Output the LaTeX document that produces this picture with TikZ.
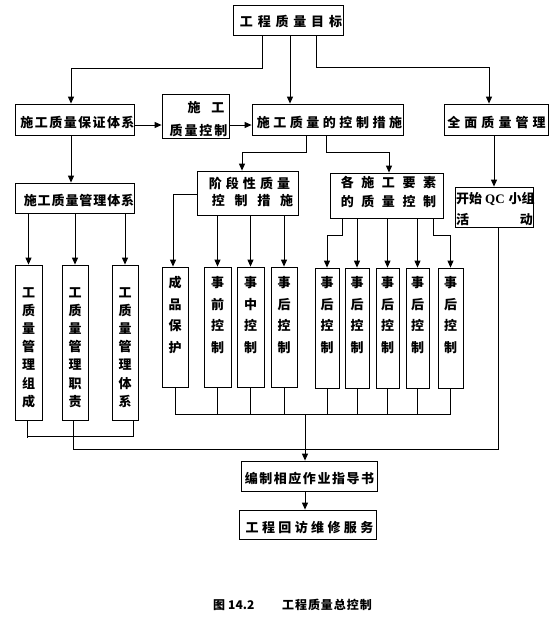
\documentclass[tikz,border=0pt]{standalone}
\usepackage{fontspec}
\setmainfont{Noto Sans CJK SC}
\newfontfamily\latinfont{Liberation Serif}
\usetikzlibrary{arrows.meta}
\newcommand\lsp[2]{{\addfontfeatures{LetterSpace=#1}#2}}
\begin{document}
\begin{tikzpicture}[x=1pt,y=-1pt,
  box/.style={draw, line width=0.8pt, inner sep=0pt},
  ln/.style={line width=0.7pt},
  arr/.style={line width=1pt, -{Triangle[length=7pt,width=6pt]}},
  txt/.style={inner sep=0pt, font=\fontsize{13}{15}\selectfont\bfseries},
  captxt/.style={inner sep=0pt, font=\fontsize{12}{14}\selectfont\bfseries},
  vtxt/.style={inner sep=0pt, align=center, font=\fontsize{13}{18.2}\selectfont\bfseries},
  vtxtb/.style={inner sep=0pt, align=center, font=\fontsize{13}{21.7}\selectfont\bfseries}
]
\useasboundingbox (0,0) rectangle (554,630);

% boxes
\node[box, minimum width=110pt, minimum height=30pt] (top) at (288,20) {};
\node[box, minimum width=119pt, minimum height=31pt] (bz) at (74.5,119.5) {};
\node[box, minimum width=67pt, minimum height=44pt] (sgkz) at (195.5,116) {};
\node[box, minimum width=151pt, minimum height=31pt] (cs) at (327.5,119.5) {};
\node[box, minimum width=104pt, minimum height=31pt] (qm) at (496,119.5) {};
\node[box, minimum width=119pt, minimum height=30pt] (gl) at (74.5,198) {};
\node[box, minimum width=101pt, minimum height=44pt] (jd) at (247.5,193) {};
\node[box, minimum width=113pt, minimum height=45pt] (gs) at (386.5,195.5) {};
\node[box, minimum width=78pt, minimum height=40pt] (qc) at (494,207) {};
\node[box, minimum width=27pt, minimum height=155pt] (l1) at (28.5,342.5) {};
\node[box, minimum width=26pt, minimum height=155pt] (l2) at (75,342.5) {};
\node[box, minimum width=26pt, minimum height=155pt] (l3) at (125,342.5) {};
\node[box, minimum width=26pt, minimum height=120pt] (m1) at (175,327) {};
\node[box, minimum width=27pt, minimum height=120pt] (m2) at (217.5,327) {};
\node[box, minimum width=27pt, minimum height=120pt] (m3) at (250.5,327) {};
\node[box, minimum width=26pt, minimum height=120pt] (m4) at (284,327) {};
\node[box, minimum width=24pt, minimum height=120pt] (r1) at (327,328) {};
\node[box, minimum width=24pt, minimum height=120pt] (r2) at (357,328) {};
\node[box, minimum width=23pt, minimum height=120pt] (r3) at (387.5,328) {};
\node[box, minimum width=23pt, minimum height=120pt] (r4) at (417.5,328) {};
\node[box, minimum width=25pt, minimum height=120pt] (r5) at (450.5,328) {};
\node[box, minimum width=136pt, minimum height=30pt] (zd) at (309,476) {};
\node[box, minimum width=137pt, minimum height=29pt] (hf) at (307.5,524.5) {};

% texts
\node[txt] (ttop) at (291,21) {\lsp{37}{工程质量目标}};
\node[txt] (tbz) at (77.5,122) {\lsp{11}{施工质量保证体系}};
\node[txt] (tsg1) at (206,108) {施\kern11pt工};
\node[txt] (tsg2) at (198.5,130) {\lsp{15}{质量控制}};
\node[txt] (tcs) at (329.5,122) {\lsp{27}{施工质量的控制措施}};
\node[txt] (tqm) at (496.5,122) {\lsp{31}{全面质量管理}};
\node[txt] (tgl) at (79,200) {\lsp{7}{施工质量管理体系}};
\node[txt] (tjd1) at (249.5,183) {\lsp{31}{阶段性质量}};
\node[txt] (tjd2) at (252.5,201) {\lsp{75}{控制措施}};
\node[txt] (tgs1) at (388.5,182) {\lsp{58}{各施工要素}};
\node[txt] (tgs2) at (388.5,201) {\lsp{58}{的质量控制}};
\node[txt, anchor=west] (tqc1) at (456,199) {开始\kern3pt{\latinfont\bfseries QC}\kern4pt小组};
\node[txt, anchor=west] (tqc2) at (456,220) {活};
\node[txt, anchor=east] (tqc3) at (533,220) {动};
\node[vtxt] (tl1) at (28.5,347.5) {工\\质\\量\\管\\理\\组\\成};
\node[vtxt] (tl2) at (75,347.5) {工\\质\\量\\管\\理\\职\\责};
\node[vtxt] (tl3) at (125,347.5) {工\\质\\量\\管\\理\\体\\系};
\node[vtxtb] (tm1) at (175,315) {成\\品\\保\\护};
\node[vtxtb] (tm2) at (217.5,315) {事\\前\\控\\制};
\node[vtxtb] (tm3) at (250.5,315) {事\\中\\控\\制};
\node[vtxtb] (tm4) at (284,315) {事\\后\\控\\制};
\node[vtxtb] (tr1) at (327,315) {事\\后\\控\\制};
\node[vtxtb] (tr2) at (357,315) {事\\后\\控\\制};
\node[vtxtb] (tr3) at (387.5,315) {事\\后\\控\\制};
\node[vtxtb] (tr4) at (417.5,315) {事\\后\\控\\制};
\node[vtxtb] (tr5) at (450.5,315) {事\\后\\控\\制};
\node[txt] (tzd) at (309.5,479) {\lsp{12}{编制相应作业指导书}};
\node[txt] (thf) at (309.5,528) {\lsp{26}{工程回访维修服务}};
\node[captxt, anchor=west] (cap1) at (213,605) {图\kern3pt 14.2};
\node[captxt] (cap2) at (327,605) {\lsp{8}{工程质量总控制}};

% connectors
\coordinate (yrow) at (0,125);
\coordinate (busy) at (0,414);
\draw[arr] ([xshift=-26pt]top.south) -- ++(0,33) -| ([xshift=-3.5pt]bz.north);
\draw[arr] ([xshift=2pt]top.south) -- ([xshift=2pt]top.south |- cs.north);
\draw[arr] ([xshift=28pt]top.south) -- ++(0,32) -| ([xshift=-7pt]qm.north);
\draw[arr] (yrow -| bz.east) -- (yrow -| sgkz.west);
\draw[arr] (yrow -| sgkz.east) -- (yrow -| cs.west);
\draw[arr] ([xshift=-3.5pt]bz.south) -- ([xshift=-3.5pt]gl.north);
\draw[arr] ([xshift=-21.5pt]cs.south) -- ++(0,17) -| ([xshift=-5.5pt]jd.north);
\draw[arr] ([xshift=-1.5pt]cs.south) -- ++(0,17) -| ([xshift=2.5pt]gs.north);
\draw[arr] (qm.south -| qc.north) -- (qc.north);
\draw[arr] (gl.south -| l1.north) -- (l1.north);
\draw[arr] (gl.south -| l2.north) -- (l2.north);
\draw[arr] (gl.south -| l3.north) -- (l3.north);
\draw[arr] ([yshift=-1pt]jd.west) -| ([xshift=-2pt]m1.north);
\draw[arr] (jd.south -| m2.north) -- (m2.north);
\draw[arr] (jd.south -| m3.north) -- (m3.north);
\draw[arr] (jd.south -| m4.north) -- (m4.north);
\draw[arr] ([xshift=-44.5pt]gs.south) -- ++(0,17) -| (r1.north);
\draw[arr] (gs.south -| r2.north) -- (r2.north);
\draw[arr] (gs.south -| r3.north) -- (r3.north);
\draw[arr] (gs.south -| r4.north) -- (r4.north);
\draw[arr] ([xshift=46.5pt]gs.south) -- ++(0,17) -| (r5.north);
% bottoms
\draw[ln] ([xshift=-1.5pt]l1.south) -- ++(0,18);
\draw[ln] ([xshift=-1.5pt,yshift=-16pt]l1.south) -| ([xshift=8pt]l3.south);
\draw[ln] ([xshift=4pt]qc.south) |- ([xshift=-2pt,yshift=-29pt]l2.south) -- ([xshift=-2pt]l2.south);
\draw[ln] (m1.south) |- (busy -| r5.south) -- (r5.south);
\draw[ln] (m2.south) -- (m2.south |- busy);
\draw[ln] (m3.south) -- (m3.south |- busy);
\draw[ln] (m4.south) -- (m4.south |- busy);
\draw[ln] (r1.south) -- (r1.south |- busy);
\draw[ln] (r2.south) -- (r2.south |- busy);
\draw[ln] (r3.south) -- (r3.south |- busy);
\draw[ln] (r4.south) -- (r4.south |- busy);
\coordinate (zdin) at ([xshift=-4pt]zd.north);
\draw[arr] (zdin |- busy) -- (zdin);
\draw[arr] (zdin |- zd.south) -- (zdin |- hf.north);
\end{tikzpicture}
\end{document}
